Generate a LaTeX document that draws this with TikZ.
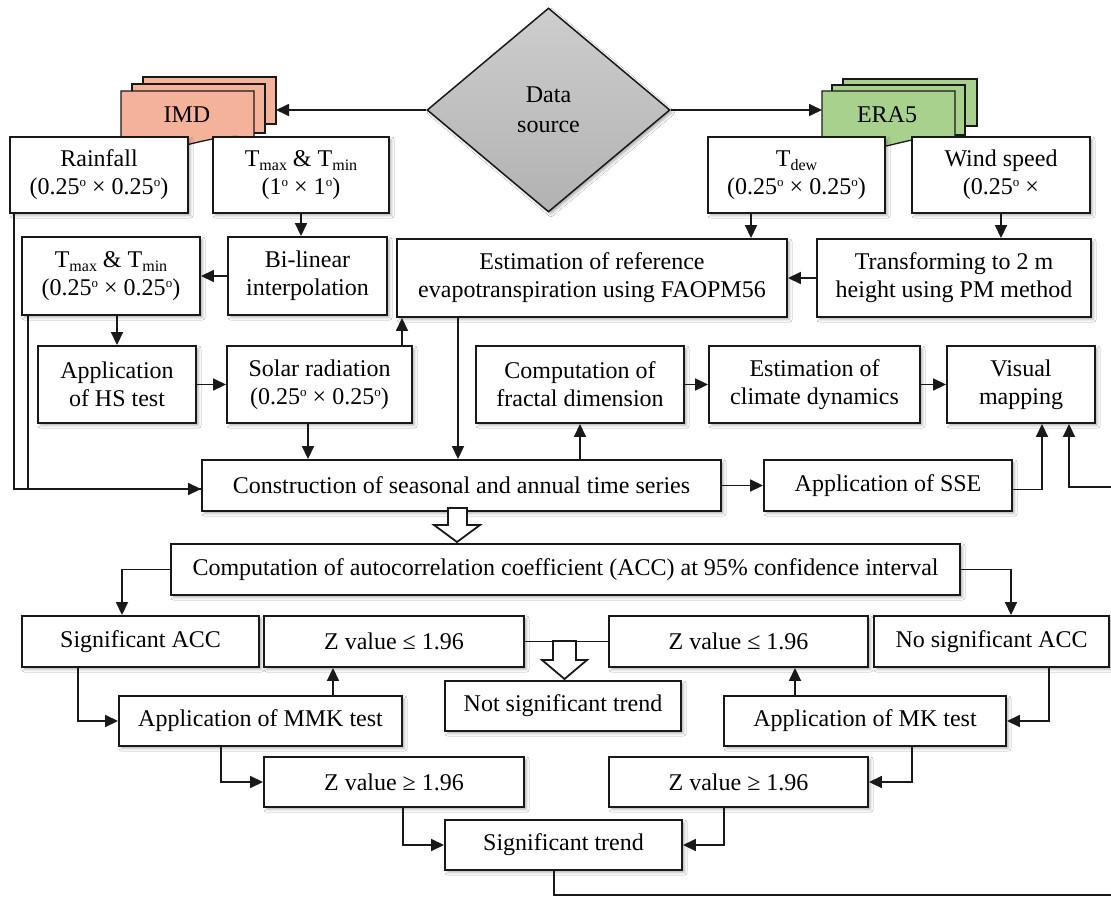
\documentclass[tikz,border=0pt]{standalone}
\usepackage{fontspec}
\setmainfont{Liberation Serif}
\usetikzlibrary{arrows.meta,shapes.geometric,shadows.blur}
\definecolor{imdfill}{RGB}{244,178,154}
\definecolor{erafill}{RGB}{169,209,142}
\definecolor{lineclr}{RGB}{25,25,25}
\definecolor{dstop}{RGB}{205,205,205}
\definecolor{dsbot}{RGB}{178,178,178}
\tikzset{
  box/.style={draw=lineclr, fill=white, line width=1.9pt, rectangle, inner sep=0pt, align=center,
    font=\fontsize{24}{28}\selectfont,
    blur shadow={shadow xshift=2.5pt, shadow yshift=-2.5pt, shadow blur radius=2.5pt, shadow opacity=30}},
  arr/.style={draw=lineclr, line width=1.7pt, -{Triangle[length=13pt,width=12pt]}},
  conn/.style={draw=lineclr, line width=1.7pt},
  card/.style={draw=lineclr, line width=1.3pt},
  hollow/.style={draw=lineclr, fill=white, line width=1.8pt, line join=miter},
  lbl/.style={inner sep=0pt, font=\fontsize{24}{28}\selectfont},
}
\newcommand{\dg}{\raisebox{0.75ex}{\fontsize{13}{13}\selectfont o}}
\newcommand{\sbs}[1]{\raisebox{-0.35ex}{\fontsize{16}{16}\selectfont #1}}
\begin{document}
\begin{tikzpicture}[x=1pt,y=-1pt]
\useasboundingbox (0,0) rectangle (1111,897);
\fill[white] (0,0) rectangle (1111,897);

% data source diamond
\node[diamond, draw=lineclr, line width=1.5pt, top color=dstop, bottom color=dsbot,
  minimum width=243pt, minimum height=204pt, aspect=1.19, inner sep=0pt, align=center,
  font=\fontsize{24}{30}\selectfont,
  blur shadow={shadow xshift=2.5pt, shadow yshift=-2.5pt, shadow blur radius=2.5pt, shadow opacity=30}]
  (ds) at (548.5,110) {Data\\source};

% IMD stacked cards
\filldraw[card, fill=imdfill] (143,77) rectangle (276,124);
\filldraw[card, fill=imdfill] (132,84) rectangle (265,133);
\filldraw[card, fill=imdfill] (121,91) -- (254,91) -- (254,139) .. controls (210,127) and (165,165) .. (121,142) -- cycle;
\node[lbl] (imd) at (187,115) {IMD};
\coordinate (imdR) at (276,110);

% ERA5 stacked cards
\filldraw[card, fill=erafill] (843,79) rectangle (977,126);
\filldraw[card, fill=erafill] (832,85) rectangle (965,135);
\filldraw[card, fill=erafill] (822,91) -- (955,91) -- (955,139) .. controls (911,128) and (866,166) .. (822,143) -- cycle;
\node[lbl] (era) at (887,115) {ERA5};
\coordinate (eraL) at (822,110);

\draw[arr] (ds.west) -- (imdR);
\draw[arr] (ds.east) -- (eraL);

% boxes
\node[box, minimum width=178pt, minimum height=76pt] (rain) at (99,175) {Rainfall\\(0.25\dg{} × 0.25\dg)};
\node[box, minimum width=176pt, minimum height=76pt] (tmax1) at (301,175) {T\sbs{max} \& T\sbs{min}\\(1\dg{} × 1\dg)};
\node[box, minimum width=178pt, minimum height=78pt] (tmax2) at (111,276) {T\sbs{max} \& T\sbs{min}\\(0.25\dg{} × 0.25\dg)};
\node[box, minimum width=159pt, minimum height=78pt] (bil) at (307.5,276) {Bi-linear\\interpolation};
\node[box, minimum width=390pt, minimum height=78pt] (et) at (592,278) {Estimation of reference\\evapotranspiration using FAOPM56};
\node[box, minimum width=177pt, minimum height=76pt] (tdew) at (796.5,175) {T\sbs{dew}\\(0.25\dg{} × 0.25\dg)};
\node[box, minimum width=178pt, minimum height=76pt] (wind) at (1001,175) {Wind speed\\(0.25\dg{} ×};
\node[box, minimum width=274pt, minimum height=78pt] (trans) at (954,278) {Transforming to 2 m\\height using PM method};
\node[box, minimum width=158pt, minimum height=77pt] (hs) at (117,384.5) {Application\\of HS test};
\node[box, minimum width=185pt, minimum height=77pt] (solar) at (319.5,384.5) {Solar radiation\\(0.25\dg{} × 0.25\dg)};
\node[box, minimum width=208pt, minimum height=77pt] (fract) at (580,384.5) {Computation of\\fractal dimension};
\node[box, minimum width=211pt, minimum height=77pt] (clim) at (814.5,384.5) {Estimation of\\climate dynamics};
\node[box, minimum width=148pt, minimum height=77pt] (vis) at (1021,384.5) {Visual\\mapping};
\node[box, minimum width=519pt, minimum height=51pt] (cons) at (461.5,485.5) {Construction of seasonal and annual time series};
\node[box, minimum width=248pt, minimum height=51pt] (sse) at (888,485.5) {Application of SSE};
\node[box, minimum width=789pt, minimum height=51pt] (acc) at (565.5,569.5) {Computation of autocorrelation coefficient (ACC) at 95\% confidence interval};
\node[box, minimum width=237pt, minimum height=51pt] (sigacc) at (140.5,641.5) {Significant ACC};
\node[box, minimum width=260pt, minimum height=51pt] (zle1) at (394,641.5) {Z value ≤ 1.96};
\node[box, minimum width=259pt, minimum height=51pt] (zle2) at (738.5,641.5) {Z value ≤ 1.96};
\node[box, minimum width=235pt, minimum height=51pt] (nosig) at (991.5,641.5) {No significant ACC};
\node[box, minimum width=236pt, minimum height=50pt] (notsig) at (563,706) {Not significant trend};
\node[box, minimum width=283pt, minimum height=50pt] (mmk) at (260.5,721) {Application of MMK test};
\node[box, minimum width=282pt, minimum height=50pt] (mk) at (865,721) {Application of MK test};
\node[box, minimum width=260pt, minimum height=50pt] (zge1) at (394,782) {Z value ≥ 1.96};
\node[box, minimum width=259pt, minimum height=50pt] (zge2) at (738.5,782) {Z value ≥ 1.96};
\node[box, minimum width=237pt, minimum height=50pt] (sigtr) at (563.5,845) {Significant trend};

\coordinate (edgeR) at (1111,487);
\coordinate (edgeB) at (1111,895);

% upper connectors
\draw[arr] (tmax1.south) -- (tmax1.south |- bil.north);
\draw[arr] (bil.west) -- (tmax2.east);
\draw[arr] ([xshift=5pt]rain.south west) |- ([yshift=-3.5pt]cons.west);
\draw[conn] ([xshift=7pt]tmax2.south west) |- ([yshift=-3.5pt]cons.west);
\draw[arr] (hs.north |- tmax2.south) -- (hs.north);
\draw[arr] (hs.east) -- (solar.west);
\draw[arr] (402,0 |- solar.north) -- (402,0 |- et.south);
\draw[arr] (308,0 |- solar.south) -- (308,0 |- cons.north);
\draw[arr] (458,0 |- et.south) -- (458,0 |- cons.north);
\draw[arr] (751,0 |- tdew.south) -- (751,0 |- et.north);
\draw[arr] (wind.south) -- (wind.south |- trans.north);
\draw[arr] (trans.west) -- (et.east);
\draw[arr] (fract.south |- cons.north) -- (fract.south);
\draw[arr] (fract.east) -- (clim.west);
\draw[arr] (clim.east) -- (vis.west);
\draw[arr] (cons.east) -- (sse.west);
\draw[arr] ([yshift=-4pt]sse.east) -| ([xshift=21pt]vis.south);
\draw[arr] (edgeR) -| ([xshift=48pt]vis.south);

% hollow arrow to ACC
\draw[hollow] (448,508) -- (467,508) -- (467,525) -- (480,525) -- (457,542) -- (434,525) -- (448,525) -- cycle;

% lower connectors
\draw[arr] (acc.west) -| ([xshift=-18.5pt]sigacc.north);
\draw[arr] (acc.east) -| ([xshift=19.5pt]nosig.north);
\draw[arr] ([xshift=-62.5pt]sigacc.south) |- (mmk.west);
\draw[arr] (333,0 |- mmk.north) -- (333,0 |- zle1.south);
\draw[arr] (221,0 |- mmk.south) |- (zge1.west);
\draw[arr] (403,0 |- zge1.south) |- (sigtr.west);
\draw[conn] (zle1.east) -- (zle2.west);
\draw[hollow] (553,641) -- (576,641) -- (576,660) -- (587,660) -- (564.5,679) -- (542,660) -- (553,660) -- cycle;
\draw[arr] (1049,0 |- nosig.south) |- (mk.east);
\draw[arr] (795,0 |- mk.north) -- (795,0 |- zle2.south);
\draw[arr] (912,0 |- mk.south) |- (zge2.east);
\draw[arr] (724,0 |- zge2.south) |- (sigtr.east);
\draw[conn] ([xshift=-9.5pt]sigtr.south) |- (edgeB);
\end{tikzpicture}
\end{document}
